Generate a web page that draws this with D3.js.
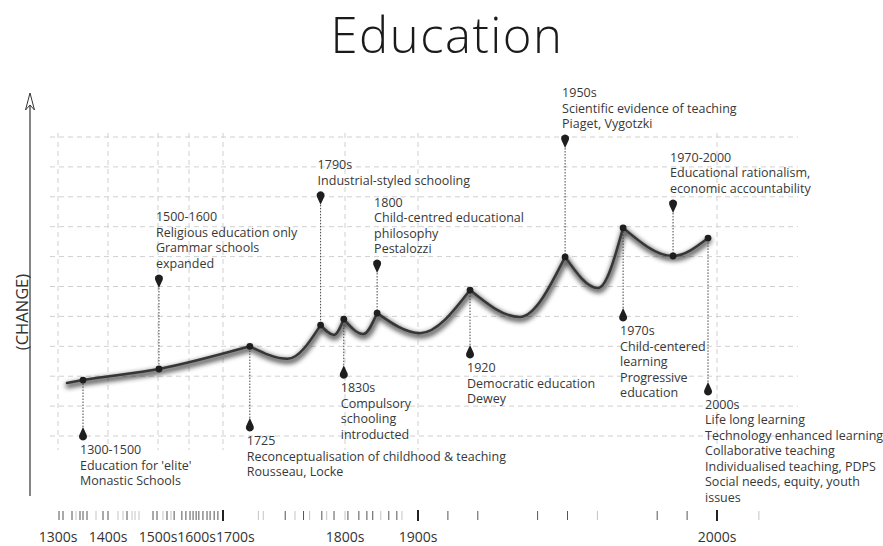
<!DOCTYPE html>
<html><head><meta charset="utf-8">
<script src="https://cdn.jsdelivr.net/npm/d3@7"></script>
<style>
html,body{margin:0;padding:0;background:#fff;}
svg{display:block;font-family:"Open Sans",sans-serif;}
</style></head><body>
<svg id="chart" width="883" height="546"></svg>
<script>
// ---------------- DATA ----------------
const chartTitle = "Education";
const yAxisLabel = "(CHANGE)";
const eraYears  = [1300, 1400, 1500, 1600, 1700, 1800, 1900, 2000];
const eraLabels = ["1300s", "1400s", "1500s", "1600s", "1700s", "1800s", "1900s", "2000s"];
const levelTicks = [0, 1, 2, 3, 4, 5, 6, 7, 8, 9, 10];

// curve of change (timeline position, level)
const curveYears  = [1318, 1350, 1503, 1722, 1753, 1780, 1791, 1799, 1825, 1844, 1900.7, 1917.4, 1934, 1949.2, 1960.2, 1968.6, 1985.3, 1997];
const curveLevels = [1.77, 1.87, 2.24, 3.00, 2.58, 3.71, 3.38, 3.91, 3.41, 4.11, 3.44, 4.88, 3.98, 5.99, 4.95, 6.96, 6.02, 6.62];

// annotated events (anchored on curve points)
const eventYears     = [1350, 1503, 1722, 1780, 1799, 1844, 1917.4, 1949.2, 1968.6, 1985.3, 1997];
const eventPinLevels = [0.30, 4.95, 0.60, 7.73, 2.37, 5.45, 3.04, 9.63, 4.28, 7.46, 1.81];
const eventLabels = [
  ["1300-1500", "Education for 'elite'", "Monastic Schools"],
  ["1500-1600", "Religious education only", "Grammar schools", "expanded"],
  ["1725", "Reconceptualisation of childhood & teaching", "Rousseau, Locke"],
  ["1790s", "Industrial-styled schooling"],
  ["1830s", "Compulsory", "schooling", "introducted"],
  ["1800", "Child-centred educational", "philosophy", "Pestalozzi"],
  ["1920", "Democratic education", "Dewey"],
  ["1950s", "Scientific evidence of teaching", "Piaget, Vygotzki"],
  ["1970s", "Child-centered", "learning", "Progressive", "education"],
  ["1970-2000", "Educational rationalism,", "economic accountability"],
  ["2000s", "Life long learning", "Technology enhanced learning", "Collaborative teaching", "Individualised teaching, PDPS", "Social needs, equity, youth", "issues"]
];

// timeline rug ticks
const rugYearsBold  = [1700, 1900, 2000];
const rugYearsDark  = [1302, 1310, 1328, 1344, 1350, 1358, 1390, 1400, 1438, 1490, 1498, 1529, 1552, 1577, 1590, 1603, 1612, 1621, 1629, 1641, 1653, 1662, 1674, 1685, 1751, 1766, 1781, 1791, 1804, 1819, 1830, 1838, 1860, 1871, 1910, 1920, 1940, 1950, 1980, 1990];
const rugYearsLight = [1336, 1376, 1420, 1430, 1448, 1454, 1462, 1516, 1542, 1729, 1733, 1759, 1771, 1785, 1800, 1849, 1878, 1960, 2014];

// ---------------- LAYOUT ----------------
const svg = d3.select("#chart");
const x = d3.scaleLinear().domain(eraYears).range([58, 108, 158, 189, 223, 345, 418, 717]);
const y = d3.scaleLinear().domain([0, 10]).range([436, 137]);
const gridLeft = 50, gridRight = 798, gridTop = 133, gridBottom = 450;
const textColor = "#383838";

const defs = svg.append("defs");
const f = defs.append("filter").attr("id", "shadow")
  .attr("x", "-10%").attr("y", "-60%").attr("width", "120%").attr("height", "220%");
f.append("feGaussianBlur").attr("stdDeviation", 2.5);

// title
svg.append("text").attr("x", 447).attr("y", 53).attr("text-anchor", "middle")
  .attr("font-size", 49).attr("font-weight", 300).attr("letter-spacing", 1.5)
  .attr("fill", "#1a1a1a").text(chartTitle);

// grid
const grid = svg.append("g").attr("stroke", "#d0d0d0").attr("stroke-width", 1)
  .attr("stroke-dasharray", "5,4").attr("fill", "none");
grid.selectAll("line.h").data(levelTicks).join("line").attr("class", "h")
  .attr("x1", gridLeft).attr("x2", gridRight).attr("y1", d => y(d)).attr("y2", d => y(d));
grid.selectAll("line.v").data(eraYears).join("line").attr("class", "v")
  .attr("x1", d => x(d)).attr("x2", d => x(d)).attr("y1", gridTop).attr("y2", gridBottom);

// y axis with arrow
svg.append("line").attr("x1", 30).attr("x2", 30).attr("y1", 96).attr("y2", 496)
  .attr("stroke", "#333").attr("stroke-width", 1.2);
svg.append("path").attr("d", "M25.5,110 L30,93 L34.5,110 L30,105 Z")
  .attr("fill", "#fff").attr("stroke", "#333").attr("stroke-width", 1);
svg.append("text").attr("transform", "translate(28,312) rotate(-90)")
  .attr("text-anchor", "middle").attr("font-size", 16.5).attr("font-weight", 400)
  .attr("fill", "#333").text(yAxisLabel);

// curve, split into arches at local maxima (cusps)
const pts = curveYears.map((t, i) => [t, curveLevels[i]]);
const segments = [];
let cur = [pts[0]];
for (let i = 1; i < pts.length; i++) {
  cur.push(pts[i]);
  const isPeak = i < pts.length - 1 && pts[i][1] > pts[i - 1][1] && pts[i][1] > pts[i + 1][1];
  if (isPeak) { segments.push(cur); cur = [pts[i]]; }
}
segments.push(cur);
const lineGen = d3.line().x(d => x(d[0])).y(d => y(d[1])).curve(d3.curveMonotoneX);
const pathD = segments.map(s => lineGen(s)).join("");

svg.append("path").attr("d", pathD).attr("fill", "none").attr("stroke", "#000")
  .attr("stroke-width", 5).attr("stroke-opacity", 0.7).attr("stroke-linecap", "round")
  .attr("stroke-linejoin", "round").attr("transform", "translate(1,2.5)").attr("filter", "url(#shadow)");
svg.append("path").attr("d", pathD).attr("fill", "none").attr("stroke", "#363636")
  .attr("stroke-width", 2.5).attr("stroke-linecap", "round").attr("stroke-linejoin", "round");

// events
const events = eventYears.map((t, i) => {
  const idx = curveYears.indexOf(t);
  return { t, level: curveLevels[idx], pin: eventPinLevels[i], lines: eventLabels[i] };
});
const lineH = 15.5;
const ev = svg.append("g");
events.forEach(e => {
  const px = x(e.t), cy = y(e.level), tipY = y(e.pin);
  const up = e.pin > e.level; // pin above curve, pointing down
  ev.append("line").attr("x1", px).attr("x2", px).attr("y1", tipY).attr("y2", cy)
    .attr("stroke", "#444").attr("stroke-width", 1).attr("stroke-dasharray", "1.5,1.5");
  const d = up
    ? `M${px},${tipY} L${px - 3.7},${tipY - 8} A4,4 0 1 1 ${px + 3.7},${tipY - 8} Z`
    : `M${px},${tipY} L${px - 3.7},${tipY + 8} A4,4 0 1 0 ${px + 3.7},${tipY + 8} Z`;
  ev.append("path").attr("d", d).attr("fill", "#1e1e1e");
  ev.append("circle").attr("cx", px).attr("cy", cy).attr("r", 3.4).attr("fill", "#1e1e1e");
  const n = e.lines.length;
  const firstBase = up ? tipY - 20 - (n - 1) * lineH : tipY + 27;
  const t = ev.append("text").attr("font-size", 12.5).attr("fill", textColor);
  e.lines.forEach((s, k) => {
    t.append("tspan").attr("x", px - 3).attr("y", firstBase + k * lineH).text(s);
  });
});

// timeline rug
const rug = svg.append("g");
rug.selectAll("line.l").data(rugYearsLight).join("line").attr("class", "l")
  .attr("x1", d => x(d)).attr("x2", d => x(d)).attr("y1", 511).attr("y2", 520)
  .attr("stroke", "#c4c4c4").attr("stroke-width", 1);
rug.selectAll("line.d").data(rugYearsDark).join("line").attr("class", "d")
  .attr("x1", d => x(d)).attr("x2", d => x(d)).attr("y1", 511).attr("y2", 520)
  .attr("stroke", "#555").attr("stroke-width", 1);
rug.selectAll("line.b").data(rugYearsBold).join("line").attr("class", "b")
  .attr("x1", d => x(d)).attr("x2", d => x(d)).attr("y1", 510).attr("y2", 521)
  .attr("stroke", "#222").attr("stroke-width", 2);

// era labels with simple collision nudge
const lab = svg.append("g").attr("font-size", 14).attr("fill", "#333");
let prevRight = -Infinity;
eraYears.forEach((yr, i) => {
  const tx = lab.append("text").attr("text-anchor", "middle").attr("y", 542).text(eraLabels[i]);
  const w = tx.node().getComputedTextLength();
  const cx = Math.max(x(yr), prevRight + w / 2);
  tx.attr("x", cx);
  prevRight = cx + w / 2;
});
</script>
</body></html>
